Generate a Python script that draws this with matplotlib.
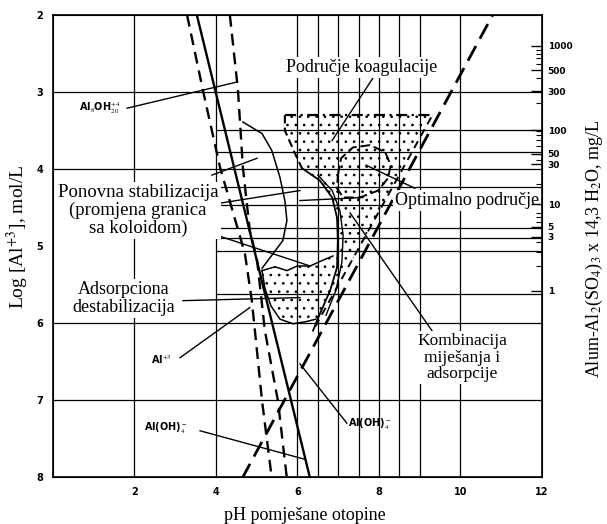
import numpy as np
import matplotlib
matplotlib.use("Agg")
import matplotlib.pyplot as plt

plt.rcParams['font.family'] = ['Liberation Serif', 'DejaVu Serif']
plt.rcParams['mathtext.fontset'] = 'stix'
plt.rcParams['hatch.linewidth'] = 0.7

# grid (pH columns, log[Al] rows)
major_rows = [3, 4, 6, 7]
fine_rows = [3.50, 3.78, 4.23, 4.47, 4.76, 4.89, 5.06, 5.62]
full_cols = [2, 4, 6, 6.5, 7, 7.5, 8, 8.5, 9, 10]

# right axis (alum dose, mg/L) and where its labels sit on the log[Al] scale
alum_labels = ["1000", "500", "300", "100", "50", "30", "10", "5", "3", "1"]
alum_pos = [2.40, 2.72, 2.99, 3.50, 3.80, 3.94, 4.46, 4.75, 4.88, 5.58]
alum_minor = [2, 3, 4, 6, 7, 8, 9, 20, 40, 60, 70, 80, 90, 200, 400, 600, 700, 800, 900]

# boundary lines (pH, log[Al])
al8_left_ph = [3.29, 3.68, 4.10, 4.71, 4.88, 5.13, 5.37]
al8_left_L = [2.00, 2.98, 3.98, 5.10, 5.71, 7.01, 8.02]
al8_right_ph = [4.34, 4.54, 4.66, 4.83, 5.01, 5.20, 5.52, 5.74]
al8_right_L = [2.00, 2.98, 3.98, 4.80, 5.19, 6.10, 7.01, 8.02]
al3_ph = [3.53, 6.31]
al3_L = [2.00, 8.02]
aloh4_ph = [4.64, 10.79]
aloh4_L = [8.02, 2.00]
aloh4b_ph = [9.28, 6.38]
aloh4b_L = [3.33, 6.10]

# sweep region borders
top_ph = [5.69, 9.33]
top_L = [3.30, 3.30]
left_dash_ph = [5.69, 5.69, 5.94, 6.11]
left_dash_L = [3.30, 3.50, 3.80, 3.99]
left_bound_ph = [6.11, 6.55, 6.85, 6.97, 6.99, 6.97, 6.80, 6.55, 6.38]
left_bound_L = [3.99, 4.15, 4.37, 4.63, 4.93, 5.28, 5.58, 5.88, 6.10]
inner_ph = [6.50, 6.85, 7.04, 7.12, 7.09, 6.94, 6.70]
inner_L = [4.08, 4.28, 4.54, 4.86, 5.21, 5.58, 5.90]

# adsorption pocket
pocket_top_ph = [5.13, 5.45, 5.74, 5.99, 6.31, 6.60, 6.87]
pocket_top_L = [5.32, 5.27, 5.32, 5.26, 5.26, 5.19, 5.13]
pocket_bot_ph = [5.13, 5.20, 5.35, 5.57, 5.89, 6.23, 6.45]
pocket_bot_L = [5.32, 5.55, 5.78, 5.95, 6.01, 5.98, 5.95]

# restabilization zone
restab_ph = [4.66, 5.13, 5.37, 5.57, 5.69, 5.74, 5.64, 5.40, 5.13]
restab_L = [3.39, 3.54, 3.76, 4.11, 4.41, 4.67, 4.93, 5.10, 5.29]

# optimum region
opt_ph = [6.99, 7.07, 7.36, 7.78, 8.15, 8.29, 8.22, 7.98, 7.53, 7.12, 6.97, 6.99]
opt_L = [4.08, 3.86, 3.72, 3.69, 3.78, 3.95, 4.12, 4.28, 4.37, 4.37, 4.25, 4.08]

# leader lines: (pH0, pH1, L0, L1)
leaders = [
    (7.85, 6.85, 2.82, 3.63),
    (1.82, 4.52, 3.21, 2.87),
    (3.12, 4.83, 6.45, 5.80),
    (3.61, 6.18, 7.40, 7.77),
    (6.06, 7.21, 6.53, 7.30),
    (3.90, 5.01, 4.08, 3.86),
    (3.90, 6.06, 4.46, 4.28),
    (3.90, 6.31, 4.84, 5.26),
    (3.19, 6.06, 5.71, 5.67),
    (8.88, 7.68, 4.25, 3.95),
    (6.06, 7.61, 4.41, 4.37),
    (7.29, 9.30, 4.57, 6.10),
]

fig = plt.figure(figsize=(6.07, 5.24), dpi=100)
ax = fig.add_axes([0.0873, 0.0897, 0.8056, 0.8817])
ax.set_xlim(0, 12)
ax.set_ylim(8, 2)

lw_grid = 0.9
ax.hlines(major_rows, 0, 12, color='black', lw=lw_grid, zorder=1)
ax.hlines(fine_rows, 4, 12, color='black', lw=lw_grid, zorder=1)
ax.vlines(full_cols, 2, 8, color='black', lw=lw_grid, zorder=1)

# stippled coagulation area
poly_ph = (top_ph + aloh4b_ph[:1] + [6.54] + pocket_bot_ph[::-1] + pocket_top_ph[1:]
           + left_bound_ph[:5][::-1] + left_dash_ph[::-1][1:])
poly_L = (top_L + aloh4b_L[:1] + [5.95] + pocket_bot_L[::-1] + pocket_top_L[1:]
          + left_bound_L[:5][::-1] + left_dash_L[::-1][1:])
ax.fill(poly_ph, poly_L, facecolor='none', edgecolor='black', hatch='..', lw=0, zorder=2)

dash = (0, (5, 3))
ax.plot(al8_left_ph, al8_left_L, color='black', lw=1.7, ls=dash, zorder=3)
ax.plot(al8_right_ph, al8_right_L, color='black', lw=1.7, ls=dash, zorder=3)
ax.plot(al3_ph, al3_L, color='black', lw=1.7, zorder=3)
ax.plot(aloh4_ph, aloh4_L, color='black', lw=2.0, ls=(0, (6, 3)), zorder=3)
ax.plot(aloh4b_ph, aloh4b_L, color='black', lw=1.4, ls=(0, (4, 3)), zorder=3)
ax.plot(top_ph, top_L, color='black', lw=1.6, ls=(0, (5, 2, 1, 2)), zorder=3)
ax.plot(left_dash_ph, left_dash_L, color='black', lw=1.5, ls=(0, (4, 2)), zorder=3)
ax.plot(left_bound_ph, left_bound_L, color='black', lw=1.3, zorder=3)
ax.plot(inner_ph, inner_L, color='black', lw=1.0, zorder=3)
ax.plot(pocket_top_ph, pocket_top_L, color='black', lw=1.1, zorder=3)
ax.plot(pocket_bot_ph, pocket_bot_L, color='black', lw=1.1, zorder=3)
ax.plot(restab_ph, restab_L, color='black', lw=1.1, zorder=3)
ax.plot(opt_ph, opt_L, color='black', lw=1.4, ls=(0, (5, 2)), zorder=3)

for x0, x1, y0, y1 in leaders:
    ax.plot([x0, x1], [y0, y1], color='black', lw=1.0, zorder=3)

box = dict(facecolor='white', edgecolor='none', pad=1.5)
ax.text(7.58, 2.68, "Područje koagulacije", fontsize=13, ha='center', va='center',
        bbox=box, zorder=5)
ax.text(2.09, 4.54, "Ponovna stabilizacija\n(promjena granica\nsa koloidom)", fontsize=13.5,
        ha='center', va='center', linespacing=1.05, bbox=box, zorder=5)
ax.text(1.74, 5.68, "Adsorpciona\ndestabilizacija", fontsize=13, ha='center', va='center',
        linespacing=1.05, bbox=box, zorder=5)
ax.text(10.16, 4.41, "Optimalno područje", fontsize=13, ha='center', va='center',
        bbox=box, zorder=5)
ax.text(10.04, 6.45, "Kombinacija\nmiješanja i\nadsorpcije", fontsize=12.5, ha='center',
        va='center', linespacing=1.05, bbox=box, zorder=5)

small = dict(fontsize=7, family='DejaVu Sans', fontweight='bold', ha='center', va='center', zorder=5)
ax.text(1.15, 3.21, r"Al$_8$OH$_{20}^{+4}$", **small)
ax.text(2.65, 6.47, r"Al$^{+3}$", **small)
ax.text(2.77, 7.36, r"Al(OH)$_4^-$", **small)
ax.text(7.78, 7.31, r"Al(OH)$_4^-$", **small)

ax.set_xticks([2, 4, 6, 8, 10, 12])
ax.set_yticks([2, 3, 4, 5, 6, 7, 8])
ax.tick_params(length=0, pad=7)
for lab in ax.get_xticklabels() + ax.get_yticklabels():
    lab.set_family('DejaVu Sans')
    lab.set_fontweight('bold')
    lab.set_fontsize(7)
for s in ax.spines.values():
    s.set_linewidth(1.2)

xl = ax.set_xlabel("pH pomješane otopine", fontsize=13)
xl.set_verticalalignment('center')
ax.xaxis.set_label_coords(0.515, -0.083)
yl = ax.set_ylabel(r"Log [Al$^{+3}$], mol/L", fontsize=14)
yl.set_verticalalignment('center')
ax.yaxis.set_label_coords(-0.072, 0.52)

ax2 = ax.twinx()
ax2.set_ylim(8, 2)
ax2.set_yticks(alum_pos)
ax2.set_yticklabels(alum_labels)
ax2.set_yticks([5.58 - 1.06 * np.log10(v) for v in alum_minor], minor=True)
ax2.tick_params(axis='y', which='major', direction='in', length=8, width=1, pad=4)
ax2.tick_params(axis='y', which='minor', direction='in', length=4, width=0.8)
for lab in ax2.get_yticklabels():
    lab.set_family('DejaVu Sans')
    lab.set_fontweight('bold')
    lab.set_fontsize(6.5)
yr = ax2.set_ylabel(r"Alum-Al$_2$(SO$_4$)$_3$ x 14,3 H$_2$O, mg/L", fontsize=13, rotation=90)
yr.set_verticalalignment('center')
ax2.yaxis.set_label_coords(1.108, 0.494)

fig.savefig("out.png", dpi=100)
